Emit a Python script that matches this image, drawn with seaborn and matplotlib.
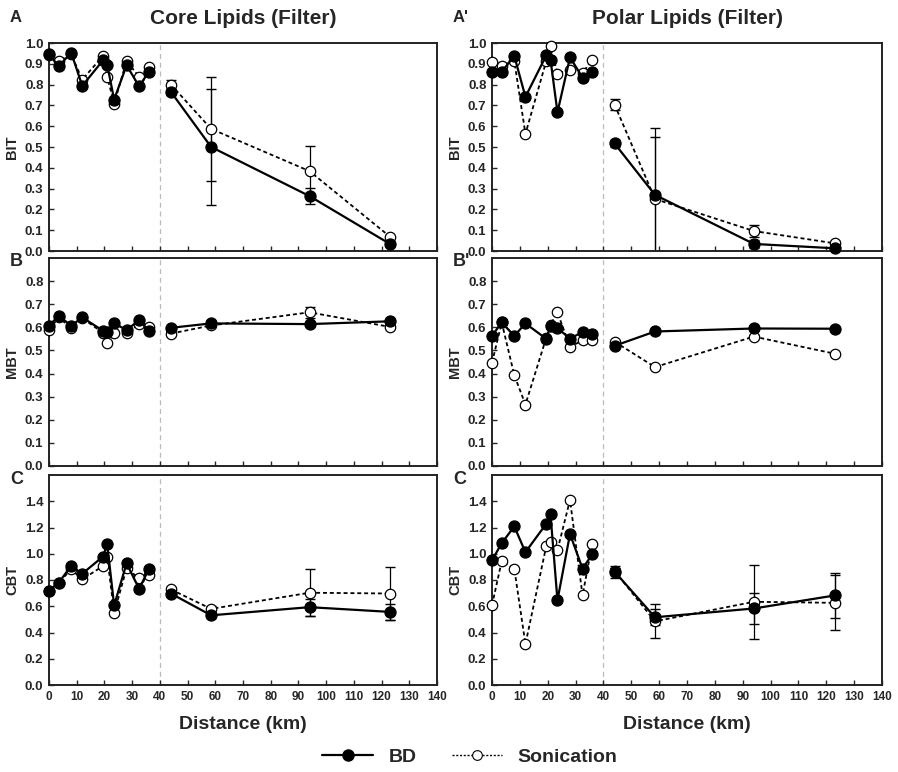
import numpy as np
import pandas as pd
import matplotlib
matplotlib.use("Agg")
import matplotlib.pyplot as plt
import seaborn as sns
from matplotlib.lines import Line2D

sns.set_style("white")
plt.rcParams['font.family'] = ['Liberation Sans', 'DejaVu Sans']
plt.rcParams['font.weight'] = 'bold'

# distances (km): estuary stations and offshore stations
near_km = [0, 3.5, 8, 12, 19.5, 21, 23.5, 28, 32.5, 36]
far_km = [44, 58.5, 94, 123]

# ---- Core lipids (filter) ----
core_bit_bd = [0.946, 0.888, 0.954, 0.794, 0.917, 0.896, 0.728, 0.893, 0.792, 0.861, 0.765, 0.50, 0.264, 0.034]
core_bit_son = [0.94, 0.914, 0.945, 0.824, 0.938, 0.837, 0.709, 0.914, 0.837, 0.885, 0.80, 0.587, 0.384, 0.069]
core_bit_bd_err = [0.015, 0.28, 0.04, 0.005]
core_bit_son_err = [0.02, 0.25, 0.12, 0.005]

core_mbt_bd = [0.607, 0.650, 0.607, 0.643, 0.585, 0.578, 0.618, 0.588, 0.631, 0.585, 0.598, 0.617, 0.614, 0.626]
core_mbt_son = [0.588, 0.643, 0.597, 0.640, 0.576, 0.534, 0.575, 0.576, 0.614, 0.602, 0.573, 0.608, 0.665, 0.602]
core_mbt_bd_err = [0.005, 0.005, 0.01, 0.005]
core_mbt_son_err = [0.01, 0.005, 0.025, 0.01]

core_cbt_bd = [0.72, 0.78, 0.907, 0.848, 0.979, 1.073, 0.606, 0.927, 0.733, 0.881, 0.697, 0.531, 0.593, 0.557]
core_cbt_son = [0.72, 0.78, 0.881, 0.805, 0.907, 0.979, 0.549, 0.889, 0.812, 0.835, 0.728, 0.58, 0.703, 0.697]
core_cbt_bd_err = [0.02, 0.02, 0.065, 0.06]
core_cbt_son_err = [0.02, 0.02, 0.18, 0.2]

# ---- Polar lipids (filter) ----
polar_bit_bd = [0.862, 0.862, 0.938, 0.741, 0.941, 0.92, 0.667, 0.931, 0.834, 0.859, 0.517, 0.27, 0.034, 0.013]
polar_bit_son = [0.909, 0.891, 0.914, 0.563, 0.914, 0.986, 0.853, 0.872, 0.856, 0.92, 0.704, 0.25, 0.096, 0.037]
polar_bit_bd_err = [0.015, 0.32, 0.02, 0.01]
polar_bit_son_err = [0.025, 0.30, 0.03, 0.01]

polar_mbt_bd = [0.563, 0.621, 0.563, 0.617, 0.55, 0.605, 0.597, 0.551, 0.58, 0.57, 0.52, 0.582, 0.595, 0.594]
polar_mbt_son = [0.447, 0.621, 0.393, 0.266, 0.556, 0.611, 0.665, 0.515, 0.544, 0.544, 0.538, 0.428, 0.56, 0.486]
polar_mbt_bd_err = [0.005, 0.005, 0.005, 0.005]
polar_mbt_son_err = [0.005, 0.005, 0.005, 0.005]

polar_cbt_bd = [0.95, 1.081, 1.208, 1.012, 1.229, 1.30, 0.646, 1.15, 0.887, 0.996, 0.864, 0.516, 0.583, 0.682]
polar_cbt_son = [0.608, 0.945, 0.887, 0.312, 1.06, 1.091, 1.027, 1.41, 0.682, 1.078, 0.869, 0.485, 0.634, 0.626]
polar_cbt_bd_err = [0.045, 0.06, 0.12, 0.17]
polar_cbt_son_err = [0.02, 0.13, 0.28, 0.21]

panels = [
    # (row, col, label, ylabel, bd, son, bd_err, son_err, ymax, yticks)
    (0, 0, "A", "BIT", core_bit_bd, core_bit_son, core_bit_bd_err, core_bit_son_err, 1.0, np.arange(0, 1.01, 0.1)),
    (0, 1, "A'", "BIT", polar_bit_bd, polar_bit_son, polar_bit_bd_err, polar_bit_son_err, 1.0, np.arange(0, 1.01, 0.1)),
    (1, 0, "B", "MBT", core_mbt_bd, core_mbt_son, core_mbt_bd_err, core_mbt_son_err, 0.9, np.arange(0, 0.81, 0.1)),
    (1, 1, "B'", "MBT", polar_mbt_bd, polar_mbt_son, polar_mbt_bd_err, polar_mbt_son_err, 0.9, np.arange(0, 0.81, 0.1)),
    (2, 0, "C", "CBT", core_cbt_bd, core_cbt_son, core_cbt_bd_err, core_cbt_son_err, 1.6, np.arange(0, 1.41, 0.2)),
    (2, 1, "C", "CBT", polar_cbt_bd, polar_cbt_son, polar_cbt_bd_err, polar_cbt_son_err, 1.6, np.arange(0, 1.41, 0.2)),
]

fig = plt.figure(figsize=(8.98, 7.72), dpi=100)
W, H = 898.0, 772.0
col_x = [(49, 437), (492, 882)]
row_y = [(43, 251), (258, 466), (475, 685)]

dist = near_km + far_km
segment = ["near"] * len(near_km) + ["far"] * len(far_km)

for row, col, lab, ylab, bd, son, bd_err, son_err, ymax, yticks in panels:
    x0, x1 = col_x[col]
    y0, y1 = row_y[row]
    ax = fig.add_axes([x0 / W, 1 - y1 / H, (x1 - x0) / W, (y1 - y0) / H])

    ax.axvline(40, color="#bbbbbb", lw=0.9, ls=(0, (4, 3)), zorder=0)

    df = pd.DataFrame({"dist": dist * 2, "value": son + bd,
                       "method": ["Sonication"] * len(dist) + ["BD"] * len(dist),
                       "segment": segment * 2})

    # error bars on offshore stations
    ax.errorbar(far_km, son[-4:], yerr=son_err, fmt="none", ecolor="black",
                elinewidth=0.9, capsize=3.5, capthick=1.0, zorder=2)
    ax.errorbar(far_km, bd[-4:], yerr=bd_err, fmt="none", ecolor="black",
                elinewidth=0.9, capsize=3.5, capthick=1.0, zorder=2)

    sns.lineplot(data=df[df.method == "Sonication"], x="dist", y="value", units="segment",
                 estimator=None, ax=ax, color="black", lw=1.3, ls=(0, (2.2, 1.6)),
                 marker="o", markersize=7.5, markerfacecolor="white",
                 markeredgecolor="black", markeredgewidth=0.9, zorder=3, clip_on=False)
    sns.lineplot(data=df[df.method == "BD"], x="dist", y="value", units="segment",
                 estimator=None, ax=ax, color="black", lw=1.6,
                 marker="o", markersize=8, markerfacecolor="black",
                 markeredgecolor="black", markeredgewidth=0.9, zorder=4, clip_on=False)

    ax.set_xlim(0, 140)
    ax.set_ylim(0, ymax)
    ax.set_xticks(np.arange(0, 141, 10))
    ax.set_yticks(yticks)
    ax.set_yticklabels([f"{t:.1f}" for t in yticks], fontsize=9.5, fontweight="bold")
    if row == 2:
        ax.set_xticklabels([str(t) for t in range(0, 141, 10)], fontsize=8.5, fontweight="bold")
        ax.set_xlabel("Distance (km)", fontsize=14, fontweight="bold", labelpad=10)
    else:
        ax.set_xticklabels([])
        ax.set_xlabel("")
    ax.set_ylabel(ylab, fontsize=10.5, fontweight="bold", labelpad=4)
    ax.tick_params(direction="in", length=3.5, width=1.0, top=False, right=False,
                   bottom=True, left=True, pad=4)
    for sp in ax.spines.values():
        sp.set_linewidth(1.4)
        sp.set_color("#222222")
    if ax.get_legend():
        ax.get_legend().remove()

    fig.text((x0 - 39) / W, 1 - (y0 - 25 if row == 0 else y0 + 4) / H, lab,
             fontsize=13 if row > 0 else 12, fontweight="bold", va="center", ha="left")

fig.text(243 / W, 1 - 18 / H, "Core Lipids (Filter)", fontsize=15, fontweight="bold",
         ha="center", va="center")
fig.text(687 / W, 1 - 18 / H, "Polar Lipids (Filter)", fontsize=15, fontweight="bold",
         ha="center", va="center")

handles = [
    Line2D([], [], color="black", lw=1.6, marker="o", markersize=8, markerfacecolor="black"),
    Line2D([], [], color="black", lw=1.0, ls=(0, (1.5, 1.2)), marker="o", markersize=7,
           markerfacecolor="white", markeredgewidth=0.8),
]
fig.legend(handles, ["BD", "Sonication"], loc="center", bbox_to_anchor=(470 / W, 1 - 757 / H),
           ncol=2, frameon=False, handlelength=2.6, columnspacing=1.8,
           prop={"size": 14, "weight": "bold"})

fig.savefig("out.png", dpi=100)
